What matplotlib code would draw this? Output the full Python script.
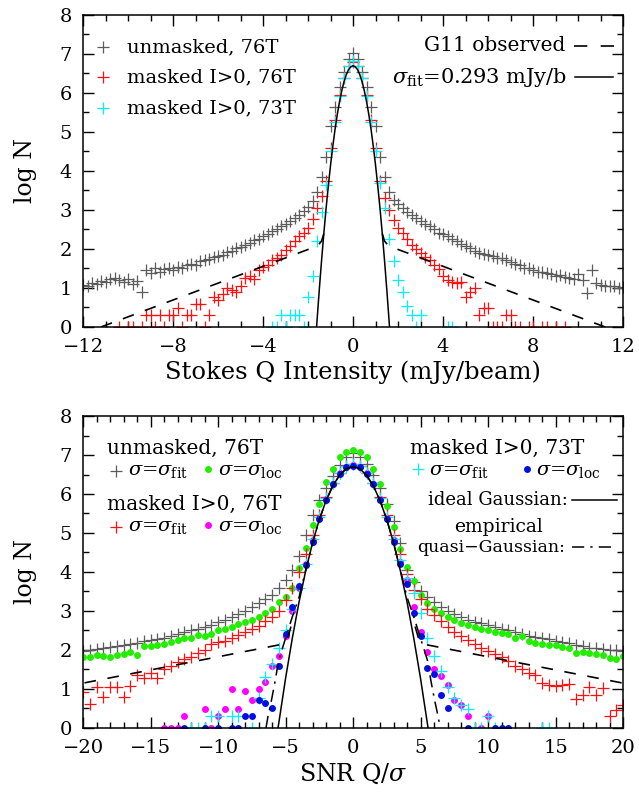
import numpy as np
import matplotlib
matplotlib.use("Agg")
import matplotlib.pyplot as plt
from matplotlib.ticker import MultipleLocator

plt.rcParams['font.family'] = ['DejaVu Serif']
plt.rcParams['mathtext.fontset'] = 'dejavuserif'

nan = np.nan

# ---------------- top panel: Stokes Q intensity, 0.2 mJy/beam bins ----------------
q_bins = np.round(np.linspace(-12.0, 12.0, 121), 2)

q_unmasked_76 = [
    1.08, 1.05, 1.12, 1.10, 1.18, 1.14, 1.22, 1.25, 1.20, 1.15,
    1.22, 1.10, 1.18, 0.90, 1.45, 1.38, 1.50, 1.42, 1.48, 1.52,
    1.45, 1.55, 1.50, 1.58, 1.62, 1.60, 1.68, 1.72, 1.75, 1.80,
    1.82, 1.85, 1.92, 1.96, 2.02, 2.06, 2.10, 2.16, 2.22, 2.26,
    2.32, 2.38, 2.45, 2.50, 2.58, 2.65, 2.72, 2.80, 2.88, 2.97,
    3.08, 3.22, 3.45, 3.85, 4.35, 5.15, 5.65, 6.15, 6.55, 6.88,
    7.02,
    6.88, 6.55, 6.15, 5.65, 5.15, 4.35, 3.85, 3.45, 3.25, 3.15,
    3.05, 2.95, 2.88, 2.80, 2.72, 2.65, 2.58, 2.50, 2.42, 2.38,
    2.32, 2.26, 2.20, 2.14, 2.08, 2.03, 1.96, 1.90, 1.88, 1.85,
    1.82, 1.78, 1.78, 1.72, 1.66, 1.62, 1.58, 1.52, 1.50, 1.45,
    1.42, 1.40, 1.38, 1.35, 1.30, 1.32, 1.28, 1.25, 1.22, 1.35,
    1.20, 0.88, 1.45, 1.12, 1.08, 1.05, 1.04, 1.05, 1.00, 1.02,
]

q_masked_76 = [
    nan, nan, nan, nan, nan, nan, nan, nan,
    0.00, nan, 0.00, 0.00, nan, 0.00, 0.30, 0.30, 0.00, 0.30,
    0.00, 0.30, 0.30, 0.48, 0.00, 0.30, 0.30, 0.60, 0.60, 0.00,
    0.30, 0.78, 0.70, 0.85, 1.00, 0.95, 0.90, 1.05, 1.25, 1.30,
    1.22, 1.45, 1.55, 1.60, 1.72, 1.78, 1.85, 1.98, 2.08, 2.20,
    2.32, 2.42, 2.55, 2.78, 3.05, 3.35, 3.75, 4.60, 5.30, 5.95,
    6.38, 6.68,
    6.80,
    6.68, 6.38, 5.95, 5.30, 4.60, 3.75, 3.30, 3.00, 2.75, 2.55,
    2.40, 2.25, 2.10, 2.00, 1.90, 1.80, 1.72, 1.60, 1.48, 1.30,
    1.20, 1.15, 1.12, 1.15, 0.78, 0.90, 1.00, 0.30, 0.48, 0.48,
    0.00, 0.00, 0.00, 0.30, 0.30, 0.00, 0.00, nan, 0.00, 0.00,
    nan, 0.00, 0.00, nan, 0.00, nan, 0.00,
    nan, nan, nan, nan, nan, nan, nan, nan, nan, nan, nan, nan, nan,
]

q_masked_73 = [nan] * 42 + [
    0.00, 0.00, 0.30, 0.00, 0.30, 0.30, 0.30, 0.00, 0.78, 1.30,
    2.20, 2.95, 3.65, 4.50, 5.25, 5.92, 6.38, 6.70,
    6.82,
    6.70, 6.38, 5.92, 5.25, 4.50, 3.70, 3.05, 2.25, 1.70, 1.20,
    0.90, 0.55, 0.30, 0.00, 0.30, nan, nan, nan, nan, nan,
    0.00, 0.00,
] + [nan] * 38

# ideal Gaussian (sigma_fit = 0.293 mJy/b), one half, mirrored for plotting
gq_x = [0.0, 0.1, 0.2, 0.3, 0.4, 0.5, 0.6, 0.7, 0.8, 0.9, 1.0, 1.1, 1.2, 1.3, 1.4, 1.5, 1.6, 1.62]
gq_y = [6.70, 6.67, 6.60, 6.47, 6.29, 6.06, 5.78, 5.45, 5.07, 4.63, 4.15, 3.61, 3.03, 2.39, 1.70, 0.96, 0.17, 0.0]

# G11 observed tail (dashed), one side
obs_q_x = [1.30, 1.40, 1.55, 1.80, 11.2]
obs_q_y = [2.39, 2.20, 2.10, 2.03, 0.0]

# ---------------- bottom panel: SNR, 0.5 sigma bins ----------------
s_bins = np.round(np.linspace(-20.0, 20.0, 81), 2)

s_unm_fit = [
    1.98, 2.00, 2.02, 2.05, 2.08, 2.10, 2.12, 2.15, 2.18, 2.22,
    2.25, 2.28, 2.32, 2.35, 2.40, 2.45, 2.50, 2.55, 2.60, 2.65,
    2.72, 2.78, 2.85, 2.92, 3.00, 3.10, 3.20, 3.30, 3.40, 3.60,
    3.80, 4.05, 4.40, 4.95, 5.45, 5.85, 6.15, 6.45, 6.75, 6.95,
    7.05,
    6.95, 6.78, 6.50, 6.15, 5.75, 5.30, 4.75, 4.05, 3.75, 3.52,
    3.37, 3.22, 3.11, 3.00, 2.92, 2.85, 2.78, 2.72, 2.68, 2.64,
    2.60, 2.55, 2.50, 2.45, 2.41, 2.37, 2.33, 2.30, 2.27, 2.24,
    2.20, 2.17, 2.13, 2.10, 2.06, 2.04, 2.02, 2.00, 2.00, 1.98,
]

s_unm_loc = [
    1.82, 1.83, 1.88, 1.85, 1.82, 1.88, 1.90, 1.96, 1.88, 2.10,
    2.10, 2.12, 2.15, 2.20, 2.25, 2.30, 2.32, 2.38, 2.35, 2.42,
    2.52, 2.55, 2.60, 2.66, 2.72, 2.78, 2.84, 2.95, 3.05, 3.22,
    3.35, 3.58, 4.10, 4.62, 5.20, 5.75, 6.30, 6.65, 6.95, 7.08,
    7.13,
    7.08, 6.95, 6.65, 6.25, 5.70, 5.15, 4.60, 4.12, 3.78, 3.42,
    3.20, 3.05, 2.94, 2.85, 2.78, 2.70, 2.64, 2.60, 2.55, 2.50,
    2.46, 2.43, 2.40, 2.30, 2.35, 2.22, 2.18, 2.16, 2.14, 2.12,
    2.08, 2.05, 1.92, 1.95, 1.92, 1.90, 1.86, 1.80, 1.76, 1.84,
]

s_msk76_fit = [
    0.92, 0.62, 1.06, 0.80, 1.06, 1.06, 0.80, 1.08, 1.36, 1.28,
    1.40, 1.28, 1.52, 1.58, 1.70, 1.78, 1.82, 1.92, 2.00, 2.15,
    2.20, 2.22, 2.30, 2.38, 2.45, 2.55, 2.62, 2.75, 2.85, 3.00,
    3.28, 3.60, 4.00, 4.45, 4.95, 5.45, 5.92, 6.28, 6.55, 6.72,
    6.78,
    6.72, 6.55, 6.28, 5.92, 5.45, 4.95, 4.45, 3.95, 3.55, 3.30,
    3.05, 2.90, 2.75, 2.58, 2.45, 2.35, 2.25, 2.15, 2.06, 1.98,
    1.90, 1.82, 1.72, 1.60, 1.52, 1.42, 1.35, 1.15, 1.10, 1.08,
    1.10, 1.12, 0.75, 0.85, 1.05, 0.85, 1.02, 0.30, 0.45, 0.60,
]

s_msk76_loc = [nan] * 12 + [
    0.00, 0.00, 0.00, 0.30, nan, nan, 0.48, 0.00, 0.30, 0.48,
    1.00, 0.48, 0.95, 0.72, 1.00, 1.18, 1.60, 1.85, 2.35, 3.00,
    3.60, 4.20, 4.82, 5.38, 5.88, 6.26, 6.53, 6.70,
    6.74,
    6.70, 6.53, 6.26, 5.88, 5.38, 4.82, 4.25, 3.80, 3.10, 2.45,
    1.95, 1.50, 1.32, 1.10, 0.72, 0.60, 0.30, nan, 0.00, 0.30,
] + [nan] * 20

s_msk73_fit = [nan] * 16 + [
    0.00, 0.00, 0.00, 0.30,
    0.30, nan, 0.30, 0.30, nan, 0.00, 0.78, 1.30, 1.65, 2.05,
    2.50, 3.05, 3.60, 4.20, 4.85, 5.40, 5.90, 6.28, 6.55, 6.72,
    6.77,
    6.72, 6.55, 6.28, 5.90, 5.40, 4.85, 4.30, 3.85, 3.45, 2.95,
    2.30, 1.85, 1.45, 1.05, 0.78, 0.60, 0.48, 0.00, 0.00, 0.30,
    0.00, nan, nan, nan, nan, nan, nan, 0.00, 0.00, nan,
] + [nan] * 10

s_msk73_loc = [nan] * 15 + [
    0.00, nan, nan, 0.00, nan,
    0.00, nan, 0.00, 0.00, 0.30, 0.30, 0.72, 0.63, 0.50, 1.60,
    2.40, 3.10, 3.65, 4.18, 4.78, 5.35, 5.85, 6.25, 6.52, 6.68,
    6.72,
    6.68, 6.52, 6.25, 5.85, 5.35, 4.78, 4.20, 3.70, 2.95, 2.35,
    1.55, 1.38, 0.85, 0.50, nan, nan, 0.00, nan, nan, nan,
    0.00, 0.00, 0.00,
] + [nan] * 17

# ideal Gaussian (sigma = 1) and empirical quasi-Gaussian, one half each
gs_x = [0.0, 0.5, 1.0, 1.5, 2.0, 2.5, 3.0, 3.5, 4.0, 4.5, 5.0, 5.5, 5.56]
gs_y = [6.70, 6.65, 6.48, 6.21, 5.83, 5.34, 4.75, 4.04, 3.23, 2.30, 1.27, 0.13, 0.0]
qg_x = [0.0, 0.5, 1.0, 1.5, 2.0, 2.5, 3.0, 3.5, 4.0, 4.5, 5.0, 5.5, 5.8, 6.05, 6.3, 6.45]
qg_y = [6.70, 6.65, 6.48, 6.21, 5.83, 5.34, 4.75, 4.06, 3.35, 2.85, 2.30, 1.75, 1.15, 0.70, 0.30, 0.0]
obs_s_x = [4.6, 4.85, 5.1, 5.5, 20.0]
obs_s_y = [2.60, 2.30, 2.18, 2.13, 1.15]

for arr, n in [(q_unmasked_76, 121), (q_masked_76, 121), (q_masked_73, 121),
               (s_unm_fit, 81), (s_unm_loc, 81), (s_msk76_fit, 81),
               (s_msk76_loc, 81), (s_msk73_fit, 81), (s_msk73_loc, 81)]:
    assert len(arr) == n, len(arr)


def mirror(x, y):
    x = np.asarray(x, float)
    y = np.asarray(y, float)
    return np.concatenate([-x[::-1], x[1:]]), np.concatenate([y[::-1], y[1:]])


def tails(ax, x, y, **kw):
    x = np.asarray(x, float)
    ax.plot(x, y, **kw)
    ax.plot(-x, y, **kw)


GRAY = '#5c5c5c'
RED = '#ff1010'
CYAN = '#00f0ff'
GREEN = '#22ee00'
MAGENTA = '#ff00ff'
BLUE = '#0010e0'
cross = dict(ls='none', marker='+', ms=9, mew=0.9)
dot = dict(ls='none', marker='o', ms=5, mew=0)
DASH = (7, 7)
DASHDOT = (8, 4, 1.5, 4)

fig = plt.figure(figsize=(6.39, 7.93), dpi=100)
ax1 = fig.add_axes([0.130, 0.5877, 0.845, 0.3934])
ax2 = fig.add_axes([0.130, 0.0820, 0.845, 0.3934])

# ---- top panel
ax1.plot(q_bins, q_unmasked_76, color=GRAY, **cross)
ax1.plot(q_bins, q_masked_76, color=RED, **cross)
ax1.plot(q_bins, q_masked_73, color=CYAN, **cross)
gx, gy = mirror(gq_x, gq_y)
ax1.plot(gx, gy, color='k', lw=1.1)
tails(ax1, obs_q_x, obs_q_y, color='k', lw=1.2, dashes=DASH)

ax1.set_xlim(-12, 12)
ax1.set_ylim(0, 8)
ax1.xaxis.set_major_locator(MultipleLocator(4))
ax1.xaxis.set_minor_locator(MultipleLocator(1))
ax1.set_xlabel('Stokes Q Intensity (mJy/beam)', fontsize=17.5, labelpad=3)

t = ax1.transAxes
ax1.plot([0.037], [0.897], transform=t, color=GRAY, **cross)
ax1.plot([0.037], [0.801], transform=t, color=RED, **cross)
ax1.plot([0.037], [0.702], transform=t, color=CYAN, **cross)
ax1.text(0.081, 0.897, 'unmasked, 76T', transform=t, fontsize=14, va='center')
ax1.text(0.081, 0.801, 'masked I>0, 76T', transform=t, fontsize=14, va='center')
ax1.text(0.081, 0.702, 'masked I>0, 73T', transform=t, fontsize=14, va='center')
ax1.text(0.893, 0.901, 'G11 observed', transform=t, fontsize=14.5, va='center', ha='right')
ax1.plot([0.909, 0.985], [0.901, 0.901], transform=t, color='k', lw=1.2, dashes=(8, 8))
ax1.text(0.896, 0.801, r'$\sigma_{\rm fit}$=0.293 mJy/b', transform=t, fontsize=15,
         va='center', ha='right')
ax1.plot([0.911, 0.981], [0.801, 0.801], transform=t, color='k', lw=1.1)

# ---- bottom panel
ax2.plot(s_bins, s_unm_fit, color=GRAY, **cross)
ax2.plot(s_bins, s_unm_loc, color=GREEN, **dot)
ax2.plot(s_bins, s_msk76_fit, color=RED, **cross)
ax2.plot(s_bins, s_msk76_loc, color=MAGENTA, **dot)
ax2.plot(s_bins, s_msk73_fit, color=CYAN, **cross)
ax2.plot(s_bins, s_msk73_loc, color=BLUE, **dot)
gx, gy = mirror(gs_x, gs_y)
ax2.plot(gx, gy, color='k', lw=1.1)
qx, qy = mirror(qg_x, qg_y)
ax2.plot(qx, qy, color='k', lw=1.1, dashes=DASHDOT)
tails(ax2, obs_s_x, obs_s_y, color='k', lw=1.2, dashes=DASH)

ax2.set_xlim(-20, 20)
ax2.set_ylim(0, 8)
ax2.xaxis.set_major_locator(MultipleLocator(5))
ax2.xaxis.set_minor_locator(MultipleLocator(1))
ax2.set_xlabel(r'SNR Q/$\sigma$', fontsize=17, labelpad=3)

t = ax2.transAxes
ax2.text(0.044, 0.897, 'unmasked, 76T', transform=t, fontsize=14.5, va='center')
ax2.plot([0.061], [0.824], transform=t, color=GRAY, **cross)
ax2.text(0.083, 0.824, r'$\sigma$=$\sigma_{\rm fit}$', transform=t, fontsize=14, va='center')
ax2.plot([0.231], [0.830], transform=t, color=GREEN, **dot)
ax2.text(0.249, 0.824, r'$\sigma$=$\sigma_{\rm loc}$', transform=t, fontsize=14, va='center')
ax2.text(0.044, 0.718, 'masked I>0, 76T', transform=t, fontsize=14.5, va='center')
ax2.plot([0.061], [0.644], transform=t, color=RED, **cross)
ax2.text(0.083, 0.644, r'$\sigma$=$\sigma_{\rm fit}$', transform=t, fontsize=14, va='center')
ax2.plot([0.231], [0.650], transform=t, color=MAGENTA, **dot)
ax2.text(0.249, 0.644, r'$\sigma$=$\sigma_{\rm loc}$', transform=t, fontsize=14, va='center')

ax2.text(0.767, 0.897, 'masked I>0, 73T', transform=t, fontsize=14.5, va='center', ha='center')
ax2.plot([0.620], [0.830], transform=t, color=CYAN, **cross)
ax2.text(0.641, 0.824, r'$\sigma$=$\sigma_{\rm fit}$', transform=t, fontsize=14, va='center')
ax2.plot([0.822], [0.830], transform=t, color=BLUE, **dot)
ax2.text(0.839, 0.824, r'$\sigma$=$\sigma_{\rm loc}$', transform=t, fontsize=14, va='center')
ax2.text(0.898, 0.731, 'ideal Gaussian:', transform=t, fontsize=13, va='center', ha='right')
ax2.plot([0.906, 0.989], [0.731, 0.731], transform=t, color='k', lw=1.1)
ax2.text(0.769, 0.644, 'empirical', transform=t, fontsize=13.5, va='center', ha='center')
ax2.text(0.893, 0.580, 'quasi\u2212Gaussian:', transform=t, fontsize=12.5, va='center', ha='right')
ax2.plot([0.906, 0.989], [0.580, 0.580], transform=t, color='k', lw=1.1, dashes=DASHDOT)

for ax in (ax1, ax2):
    ax.yaxis.set_major_locator(MultipleLocator(1))
    ax.yaxis.set_minor_locator(MultipleLocator(0.5))
    ax.set_ylabel('log N', fontsize=17, labelpad=16)
    ax.tick_params(which='both', direction='in', top=True, right=True,
                   labelsize=14, width=1.0)
    ax.tick_params(axis='x', which='major', length=8, pad=8)
    ax.tick_params(axis='y', which='major', length=8, pad=8)
    ax.tick_params(which='minor', length=4)
    for s in ax.spines.values():
        s.set_linewidth(1.1)

fig.savefig('out.png', dpi=100)
